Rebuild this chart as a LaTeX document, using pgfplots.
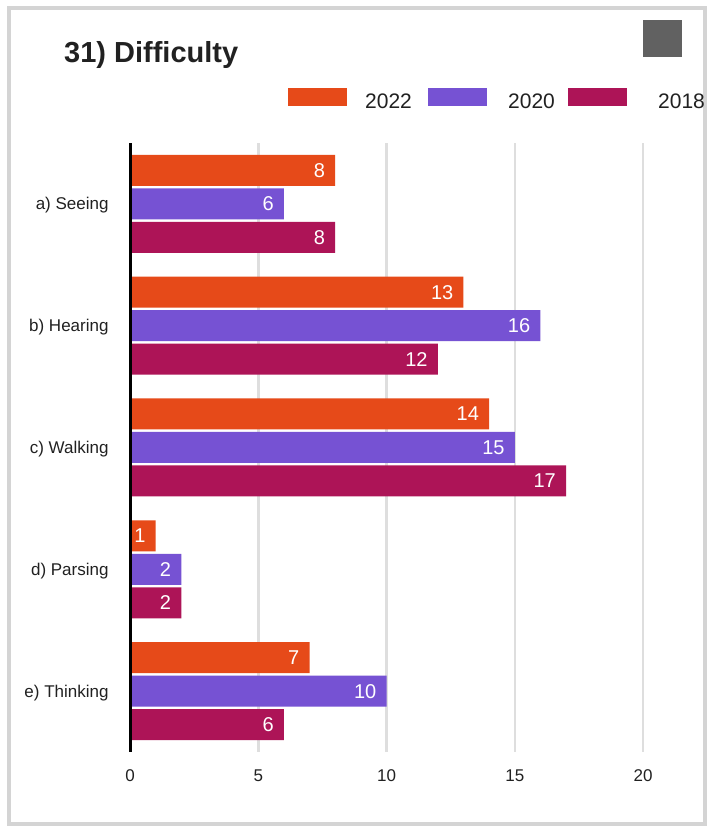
\documentclass[border=0pt]{standalone}
\usepackage{pgfplots}
\pgfplotsset{compat=1.18}
\usepackage{fontspec}
\setmainfont{Liberation Sans}
\definecolor{c22}{HTML}{E64A19}
\definecolor{c20}{HTML}{7652D3}
\definecolor{c18}{HTML}{AD1457}
\definecolor{frame}{HTML}{D4D4D4}
\definecolor{gridc}{HTML}{DEDEDE}
\definecolor{sq}{HTML}{616161}
\begin{document}
\begin{tikzpicture}[x=1pt,y=1pt]
\useasboundingbox (0,0) rectangle (708,826);
\fill[white] (0,0) rectangle (708,826);
\draw[line width=4pt, frame] (9,2) rectangle (705,818);
% title
\node[anchor=base west, inner sep=0pt, font=\fontsize{29}{34}\selectfont\bfseries, text={rgb,255:red,33;green,33;blue,33}] at (64,763) {31) Difficulty};
% grey square
\fill[sq] (643,769) rectangle (682,806);
% legend
\fill[c22] (288,720) rectangle (347,738);
\fill[c20] (428,720) rectangle (487,738);
\fill[c18] (568,720) rectangle (627,738);
\node[anchor=base west, inner sep=0pt, font=\fontsize{21}{24}\selectfont, text={rgb,255:red,33;green,33;blue,33}] at (365,717) {2022};
\node[anchor=base west, inner sep=0pt, font=\fontsize{21}{24}\selectfont, text={rgb,255:red,33;green,33;blue,33}] at (508,717) {2020};
\node[anchor=base west, inner sep=0pt, font=\fontsize{21}{24}\selectfont, text={rgb,255:red,33;green,33;blue,33}] at (658,717) {2018};
\begin{axis}[
  at={(130pt,74pt)}, anchor=south west,
  scale only axis, width=513pt, height=609pt,
  xmin=0, xmax=20, ymin=-0.5, ymax=4.5,
  xbar, bar width=31pt,
  axis line style={draw=none},
  tick style={draw=none},
  xtick={0,5,10,15,20},
  ytick={0,1,2,3,4},
  yticklabels={e) Thinking, d) Parsing, c) Walking, b) Hearing, a) Seeing},
  xmajorgrids, grid style={gridc, line width=2.5pt},
  /pgf/number format/assume math mode=true,
  xticklabel style={font=\fontsize{17}{20}\selectfont, anchor=center, inner sep=0pt, yshift=-24pt, text={rgb,255:red,33;green,33;blue,33}},
  yticklabel style={font=\fontsize{17}{20}\selectfont, anchor=base east, inner sep=0pt, xshift=-17pt, yshift=-6pt, text={rgb,255:red,33;green,33;blue,33}},
  nodes near coords,
  nodes near coords style={anchor=base east, inner sep=0pt, xshift=-10pt, yshift=-7pt, text=white, font=\fontsize{20}{24}\selectfont},
  clip=false,
]
\addplot[fill=c22, draw=none, bar shift=33.5pt] coordinates {(8,4) (13,3) (14,2) (1,1) (7,0)};
\addplot[fill=c20, draw=none, bar shift=0pt] coordinates {(6,4) (16,3) (15,2) (2,1) (10,0)};
\addplot[fill=c18, draw=none, bar shift=-33.5pt] coordinates {(8,4) (12,3) (17,2) (2,1) (6,0)};
\draw[black, line width=3pt] (axis cs:0,-0.5) -- (axis cs:0,4.5);
\end{axis}
\end{tikzpicture}
\end{document}
